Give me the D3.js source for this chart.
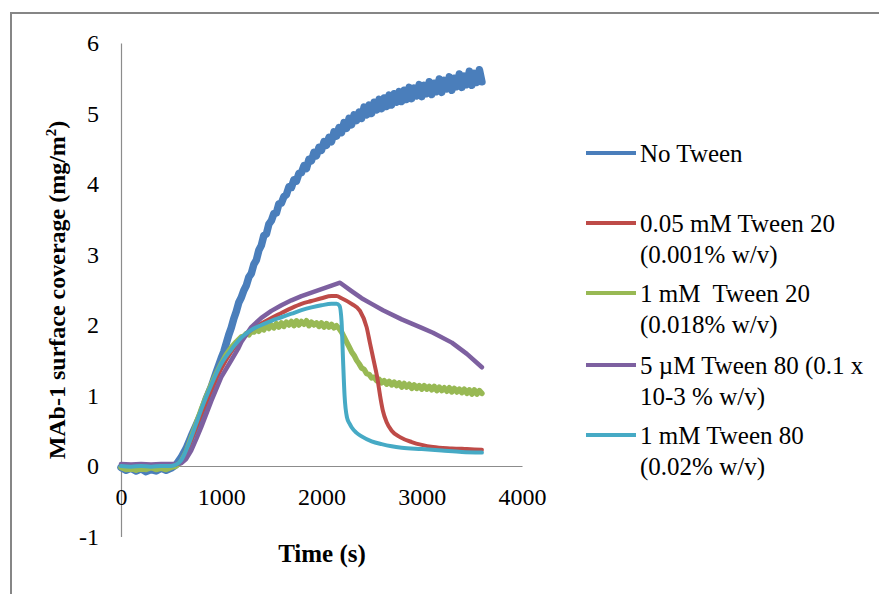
<!DOCTYPE html>
<html>
<head>
<meta charset="utf-8">
<script src="https://cdn.jsdelivr.net/npm/d3@7"></script>
<style>
  html, body { margin: 0; padding: 0; background: #fff; }
  svg { display: block; }
  text { font-family: "Liberation Serif", "Times New Roman", serif; fill: #000; }
</style>
</head>
<body>
<svg id="chart" width="879" height="594"></svg>
<script>
// Surface coverage of MAb-1 over time (s), one series per surfactant condition.
const yTicks = [-1, 0, 1, 2, 3, 4, 5, 6];
const xTicks = [0, 1000, 2000, 3000, 4000];

const seriesNames = [
  ["No Tween"],
  ["0.05 mM Tween 20", "(0.001% w/v)"],
  ["1 mM  Tween 20", "(0.018% w/v)"],
  ["5 \u00b5M Tween 80 (0.1 x", "10-3 % w/v)"],
  ["1 mM Tween 80", "(0.02% w/v)"]
];
const seriesColors = ["#4a7ebb", "#be4b48", "#98b954", "#7d60a0", "#46aac5"];

// No Tween (noisy trace)
const noTweenT = [0,50,100,150,200,250,300,350,400,450,500,550,600,650,700,750,800,850,900,950,
  1000,1025,1050,1075,1100,1125,1150,1175,1200,1225,1250,1275,1300,1325,1350,1375,1400,1425,1450,1475,
  1500,1525,1550,1575,1600,1625,1650,1675,1700,1725,1750,1775,1800,1825,1850,1875,1900,1925,1950,1975,
  2000,2025,2050,2075,2100,2125,2150,2175,2200,2225,2250,2275,2300,2325,2350,2375,2400,2425,2450,2475,
  2500,2525,2550,2575,2600,2625,2650,2675,2700,2725,2750,2775,2800,2825,2850,2875,2900,2925,2950,2975,
  3000,3025,3050,3075,3100,3125,3150,3175,3200,3225,3250,3275,3300,3325,3350,3375,3400,3425,3450,3475,
  3500,3525,3550,3575,3600];
const noTweenV = [-0.02,-0.06,-0.03,-0.07,-0.04,-0.08,-0.05,-0.07,-0.03,-0.06,-0.03,0.02,0.12,0.25,0.42,0.58,0.74,0.95,1.12,1.33,
  1.53,1.62,1.74,1.86,1.96,2.09,2.19,2.32,2.39,2.49,2.56,2.68,2.73,2.86,2.92,3.06,3.13,3.27,3.29,3.43,
  3.48,3.58,3.59,3.72,3.73,3.82,3.85,3.96,3.95,4.06,4.04,4.15,4.16,4.26,4.22,4.35,4.33,4.45,4.4,4.52,
  4.48,4.6,4.55,4.66,4.6,4.74,4.68,4.8,4.73,4.87,4.79,4.93,4.84,4.98,4.9,5.02,4.93,5.09,4.98,5.12,
  5.0,5.16,5.05,5.2,5.07,5.22,5.1,5.26,5.12,5.28,5.16,5.31,5.17,5.33,5.2,5.37,5.21,5.36,5.25,5.41,
  5.24,5.4,5.28,5.45,5.27,5.43,5.31,5.49,5.3,5.47,5.35,5.52,5.33,5.5,5.38,5.56,5.37,5.53,5.41,5.6,
  5.4,5.57,5.44,5.62,5.45];

// 0.05 mM Tween 20
const t20LowT = [0,100,200,300,400,500,550,600,650,700,750,800,900,1000,1100,1200,1300,1400,1500,1600,
  1700,1800,1900,2000,2100,2150,2200,2300,2384,2450,2484,2520,2554,2590,2613,2650,2700,2783,2900,3000,
  3112,3300,3450,3600];
const t20LowV = [0.01,0.0,0.01,0.0,0.01,0.01,0.02,0.06,0.2,0.36,0.55,0.73,1.07,1.38,1.62,1.8,1.93,2.02,2.1,2.17,
  2.24,2.3,2.34,2.38,2.41,2.41,2.38,2.3,2.2,1.97,1.74,1.5,1.27,0.95,0.78,0.62,0.5,0.41,0.34,0.3,
  0.27,0.25,0.24,0.23];

// 1 mM Tween 20 (noisy trace)
const t20HighT = [0,50,100,150,200,250,300,350,400,450,500,550,600,650,700,750,800,850,900,950,
  1000,1050,1100,1150,1200,1225,1250,1275,1300,1325,1350,1375,1400,1425,1450,1475,
  1500,1525,1550,1575,1600,1625,1650,1675,1700,1725,1750,1775,1800,1825,1850,1875,1900,1925,1950,1975,
  2000,2025,2050,2075,2100,2125,2150,2175,2200,2225,2250,2275,2300,2325,2350,2375,2400,2425,2450,2475,
  2500,2525,2550,2575,2600,2625,2650,2675,2700,2725,2750,2775,2800,2825,2850,2875,2900,2925,2950,2975,
  3000,3025,3050,3075,3100,3125,3150,3175,3200,3225,3250,3275,3300,3325,3350,3375,3400,3425,3450,3475,
  3500,3525,3550,3575,3600];
const t20HighV = [-0.02,-0.05,-0.03,-0.06,-0.03,-0.05,-0.02,-0.05,-0.03,-0.05,-0.02,0.0,0.06,0.2,0.4,0.6,0.8,0.98,1.15,1.31,
  1.45,1.58,1.68,1.76,1.83,1.84,1.88,1.86,1.91,1.9,1.94,1.91,1.97,1.93,1.99,1.95,
  2.0,1.96,2.02,1.97,2.03,1.98,2.04,2.0,2.05,1.99,2.06,2.0,2.05,2.01,2.06,1.99,2.04,2.0,2.03,1.98,
  2.03,1.97,2.02,1.97,2.01,1.96,1.99,1.95,1.9,1.83,1.76,1.69,1.62,1.57,1.5,1.45,1.39,1.37,1.31,1.3,
  1.25,1.26,1.21,1.23,1.18,1.21,1.16,1.2,1.15,1.19,1.14,1.18,1.12,1.17,1.12,1.16,1.1,1.15,1.1,1.14,
  1.09,1.14,1.09,1.13,1.08,1.13,1.07,1.12,1.07,1.11,1.06,1.11,1.05,1.1,1.05,1.09,1.04,1.09,1.03,1.08,
  1.02,1.08,1.02,1.07,1.03];

// 5 uM Tween 80
const t80LowT = [0,100,200,300,400,500,550,600,650,700,750,800,900,1000,1100,1167,1200,1300,1400,1500,
  1600,1700,1800,1900,2000,2100,2185,2300,2400,2500,2613,2800,3000,3112,3300,3450,3600];
const t80LowV = [0.03,0.02,0.03,0.02,0.03,0.03,0.03,0.04,0.1,0.22,0.38,0.55,0.92,1.26,1.5,1.66,1.76,1.97,2.1,2.2,
  2.28,2.35,2.41,2.46,2.51,2.56,2.6,2.48,2.38,2.3,2.21,2.08,1.96,1.89,1.75,1.59,1.4];

// 1 mM Tween 80
const t80HighT = [0,100,200,300,400,500,550,600,650,700,750,800,850,900,1000,1100,1200,1300,1400,1500,
  1600,1700,1800,1900,2000,2100,2150,2180,2200,2215,2230,2254,2280,2300,2350,2400,2500,2600,2700,2800,
  3000,3200,3400,3600];
const t80HighV = [0.0,-0.01,0.0,-0.01,0.0,0.0,0.02,0.08,0.22,0.4,0.6,0.8,0.98,1.15,1.45,1.65,1.82,1.93,2.0,2.06,
  2.11,2.16,2.21,2.25,2.28,2.3,2.3,2.27,2.05,1.5,1.0,0.69,0.6,0.55,0.47,0.42,0.35,0.31,0.28,0.26,
  0.24,0.22,0.2,0.19];

const svg = d3.select("#chart");

// chart frame
svg.append("rect")
  .attr("x", 11).attr("y", 13).attr("width", 900).attr("height", 620)
  .attr("fill", "none").attr("stroke", "#868686").attr("stroke-width", 2);

const x = d3.scaleLinear().domain([0, 4000]).range([121, 522]);
const y = d3.scaleLinear().domain([-1, 6]).range([536.5, 43]);

const axisColor = "#8c8c8c";
const tickFont = 24;
const textFont = 25;
const fmt = d => String(d);

// y axis
const yAxis = svg.append("g")
  .attr("transform", `translate(${x(0)},0)`)
  .call(d3.axisLeft(y).tickValues(yTicks).tickSize(0).tickPadding(22).tickFormat(fmt));
yAxis.select(".domain").attr("stroke", axisColor).attr("stroke-width", 1.2);
yAxis.selectAll("text").attr("font-size", tickFont).attr("font-family", "Liberation Serif");

// x axis drawn along y = 0
const xAxis = svg.append("g")
  .attr("transform", `translate(0,${y(0)})`)
  .call(d3.axisBottom(x).tickValues(xTicks).tickSize(0).tickPadding(22).tickFormat(fmt));
xAxis.select(".domain").attr("stroke", axisColor).attr("stroke-width", 1.2);
xAxis.selectAll("text").attr("font-size", tickFont).attr("font-family", "Liberation Serif");

// axis titles
svg.append("text")
  .attr("x", 322).attr("y", 562)
  .attr("text-anchor", "middle")
  .attr("font-size", textFont).attr("font-weight", "bold")
  .text("Time (s)");

const yTitle = svg.append("text")
  .attr("transform", "translate(65,290) rotate(-90)")
  .attr("text-anchor", "middle")
  .attr("font-size", 24).attr("font-weight", "bold");
yTitle.append("tspan").text("MAb-1 surface coverage (mg/m");
yTitle.append("tspan").attr("font-size", 15).attr("dy", -9).text("2");
yTitle.append("tspan").attr("dy", 9).text(")");

// series
const series = [
  { t: noTweenT, v: noTweenV, color: seriesColors[0], width: 7.5, curve: d3.curveLinear },
  { t: t20HighT, v: t20HighV, color: seriesColors[2], width: 5.5, curve: d3.curveLinear },
  { t: t20LowT, v: t20LowV, color: seriesColors[1], width: 4, curve: d3.curveMonotoneX },
  { t: t80LowT, v: t80LowV, color: seriesColors[3], width: 4.5, curve: d3.curveLinear },
  { t: t80HighT, v: t80HighV, color: seriesColors[4], width: 4, curve: d3.curveMonotoneX }
];

series.forEach(s => {
  const pts = s.t.map((t, i) => [t, s.v[i]]);
  const line = d3.line().x(d => x(d[0])).y(d => y(d[1])).curve(s.curve);
  svg.append("path")
    .datum(pts)
    .attr("d", line)
    .attr("fill", "none")
    .attr("stroke", s.color)
    .attr("stroke-width", s.width)
    .attr("stroke-linejoin", "round")
    .attr("stroke-linecap", "round");
});

// legend
const legendRows = [153, 223, 293, 365, 435];
const legend = svg.append("g");
seriesNames.forEach((lines, i) => {
  const ly = legendRows[i];
  legend.append("line")
    .attr("x1", 586).attr("x2", 636)
    .attr("y1", ly).attr("y2", ly)
    .attr("stroke", seriesColors[i]).attr("stroke-width", 4);
  const txt = legend.append("text")
    .attr("x", 640).attr("y", ly + 9)
    .attr("font-size", textFont)
    .style("white-space", "pre");
  lines.forEach((ln, j) => {
    txt.append("tspan").attr("x", 640).attr("dy", j === 0 ? 0 : 31).text(ln);
  });
});
</script>
</body>
</html>
